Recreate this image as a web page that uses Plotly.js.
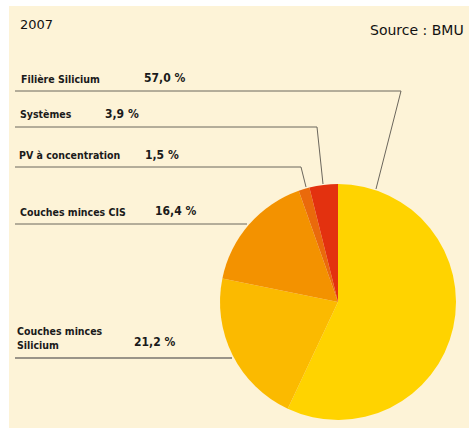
<!DOCTYPE html>
<html>
<head>
<meta charset="utf-8">
<script src="https://cdn.plot.ly/plotly-3.0.1.min.js"></script>
<style>html,body{margin:0;padding:0;background:#fff}#chart{width:469px;height:428px}</style>
</head>
<body>
<div id="chart"></div>
<script>
// Data
var labels = ["Filière Silicium", "Couches minces<br>Silicium", "Couches minces CIS", "PV à concentration", "Systèmes"];
var values = [57.0, 21.2, 16.4, 1.5, 3.9];
var colors = ["#FFD300", "#FBBA00", "#F39200", "#EA6A0B", "#E3310F"];
var yearLabel = "2007";
var sourceLabel = "Source : BMU";

// Layout helpers (pixel -> paper)
var W = 469, H = 428;
function X(px){ return px / W; }
function Y(py){ return 1 - py / H; }

// label layout (pixels), same order as labels
var labelPos = [ {x:19, y:79}, {x:15, y:338}, {x:18, y:212}, {x:17, y:155}, {x:18, y:114} ];
var valuePos = [ {x:142, y:78}, {x:132, y:342}, {x:153, y:211}, {x:143, y:155}, {x:103, y:114} ];
var leaders = [
  [[15,91],[401,91],[376,189]],
  [[15,358],[232,358]],
  [[15,224],[247,224]],
  [[15,167],[301,167],[306,187]],
  [[15,127],[317,127],[323,184]]
];

function fmt(v){ return v.toFixed(1).replace('.', ',') + ' %'; }

var annotations = [];
var shapes = [];
for (var i = 0; i < labels.length; i++) {
  annotations.push({xref:'paper', yref:'paper', x:X(labelPos[i].x), y:Y(labelPos[i].y), xanchor:'left', yanchor:'middle',
    text:labels[i], showarrow:false, align:'left',
    font:{family:'DejaVu Sans Condensed', size:10.5, color:'#1a1a1a', weight:'bold'}});
  annotations.push({xref:'paper', yref:'paper', x:X(valuePos[i].x), y:Y(valuePos[i].y), xanchor:'left', yanchor:'middle',
    text:fmt(values[i]), showarrow:false,
    font:{family:'DejaVu Sans Condensed', size:12, color:'#1a1a1a', weight:'bold'}});
  var p = leaders[i];
  var path = 'M' + X(p[0][0]) + ',' + Y(p[0][1]);
  for (var j = 1; j < p.length; j++) path += ' L' + X(p[j][0]) + ',' + Y(p[j][1]);
  var isBottom = (i === 1);
  shapes.push({type:'path', xref:'paper', yref:'paper', path:path,
    line:{color: isBottom ? '#9a9488' : '#6b665c', width: isBottom ? 2 : 1}});
}
annotations.push({xref:'paper', yref:'paper', x:X(18), y:Y(24), xanchor:'left', yanchor:'middle', text:yearLabel, showarrow:false,
  font:{family:'DejaVu Sans', size:13, color:'#111'}});
annotations.push({xref:'paper', yref:'paper', x:X(466), y:Y(30), xanchor:'right', yanchor:'middle', text:sourceLabel, showarrow:false,
  font:{family:'DejaVu Sans', size:14, color:'#111'}});

// white page margins (top / left)
shapes.push({type:'rect', xref:'paper', yref:'paper', x0:0, x1:X(9), y0:0, y1:1, fillcolor:'#ffffff', line:{width:0}});
shapes.push({type:'rect', xref:'paper', yref:'paper', x0:0, x1:1, y0:Y(6), y1:1, fillcolor:'#ffffff', line:{width:0}});

var trace = {
  type:'pie', labels:labels, values:values, sort:false, direction:'clockwise', rotation:0,
  marker:{colors:colors, line:{width:0}}, textinfo:'none', hoverinfo:'none', showlegend:false,
  domain:{x:[X(220), X(456)], y:[Y(420), Y(184)]}
};

var layout = {
  width:W, height:H, margin:{l:0, r:0, t:0, b:0},
  paper_bgcolor:'#FDF3D7', plot_bgcolor:'#FDF3D7',
  showlegend:false, annotations:annotations, shapes:shapes
};
Plotly.newPlot('chart', [trace], layout, {staticPlot:true, displayModeBar:false});
</script>
</body>
</html>
